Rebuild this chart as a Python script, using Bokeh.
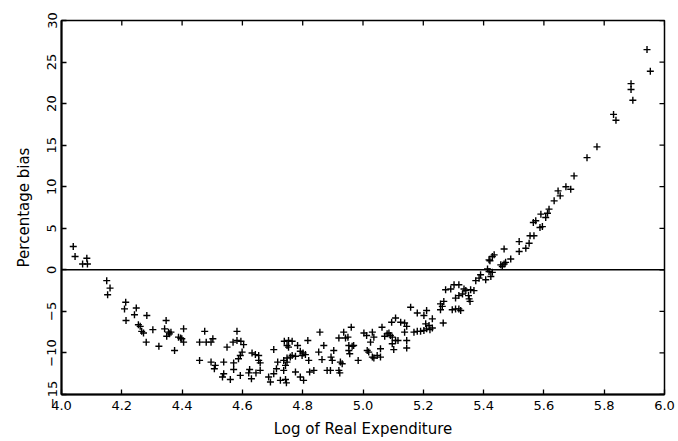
import math
from bokeh.plotting import figure
from bokeh.models import Range1d, FixedTicker, Span
from bokeh.embed import file_html
from bokeh.resources import INLINE

# ---- data ----
log_expenditure = [
    4.039, 4.045, 4.070, 4.084, 4.086, 4.150, 4.161, 4.153, 4.213, 4.209,
    4.214, 4.248, 4.242, 4.283, 4.255, 4.261, 4.266, 4.272, 4.281, 4.303,
    4.347, 4.342, 4.355, 4.363, 4.349, 4.358, 4.323, 4.375, 4.405, 4.388,
    4.399, 4.405, 4.395,
    4.458, 4.458, 4.475, 4.480, 4.496, 4.502, 4.496, 4.510, 4.507, 4.538,
    4.538, 4.534, 4.560, 4.549, 4.582, 4.569, 4.582, 4.595, 4.604, 4.599,
    4.593, 4.587, 4.571, 4.571, 4.593, 4.632, 4.643, 4.654, 4.654, 4.659,
    4.624, 4.621, 4.630, 4.645, 4.659,
    4.687, 4.693, 4.704, 4.704, 4.717, 4.713, 4.726, 4.743, 4.746, 4.737,
    4.743, 4.739, 4.753, 4.765, 4.748, 4.753, 4.759, 4.748, 4.765, 4.776,
    4.737, 4.748, 4.783, 4.792, 4.801, 4.809, 4.798, 4.776, 4.792, 4.803,
    4.817, 4.820, 4.823, 4.837, 4.857, 4.853,
    4.870, 4.864, 4.894, 4.898, 4.903, 4.925, 4.931, 4.920, 4.936, 4.942,
    4.950, 4.961, 4.953, 4.964, 4.969, 4.953, 4.956, 4.984, 4.881, 4.892,
    4.920, 4.923, 5.003, 5.012, 5.031, 5.036, 5.025, 5.014, 5.019, 5.031,
    5.036, 5.047, 5.058, 5.058, 5.063, 5.072, 5.080, 5.086, 5.091, 5.097,
    5.108, 5.116, 5.097, 5.102, 5.095, 5.108, 5.125, 5.138, 5.145, 5.138,
    5.145, 5.145,
    5.158, 5.180, 5.202, 5.211, 5.230, 5.169, 5.180, 5.191, 5.202, 5.211,
    5.222, 5.208, 5.219, 5.230, 5.257, 5.257, 5.268, 5.263, 5.274, 5.266,
    5.291, 5.296, 5.307, 5.318, 5.324, 5.307, 5.318, 5.330, 5.302, 5.318,
    5.335, 5.341, 5.350, 5.352, 5.355, 5.357, 5.368, 5.374, 5.385, 5.390,
    5.407, 5.413, 5.418, 5.429, 5.424, 5.429, 5.435, 5.421, 5.418, 5.468,
    5.457, 5.468, 5.462, 5.473, 5.490, 5.518, 5.518, 5.540, 5.551, 5.554,
    5.567, 5.565, 5.573, 5.590, 5.587, 5.595, 5.606, 5.612, 5.617, 5.634,
    5.647, 5.654, 5.673, 5.689, 5.700, 5.743, 5.776, 5.831, 5.839, 5.889,
    5.889, 5.895, 5.942, 5.953,
]
percentage_bias = [
    2.8, 1.6, 0.7, 1.4, 0.7, -1.3, -2.2, -3.0, -3.9, -4.7,
    -6.1, -4.6, -5.4, -5.5, -6.6, -6.8, -7.4, -7.6, -8.7, -7.2,
    -6.1, -7.1, -7.5, -7.5, -8.0, -7.7, -9.2, -9.7, -7.1, -8.1,
    -8.3, -8.7, -8.2,
    -8.7, -10.9, -7.4, -8.7, -8.7, -8.3, -11.1, -11.5, -11.9, -11.1,
    -12.5, -12.9, -13.2, -9.3, -7.4, -8.7, -8.5, -8.6, -9.0, -9.9,
    -10.3, -10.7, -11.2, -12.0, -12.7, -10.0, -10.2, -10.3, -10.9, -11.2,
    -12.0, -12.4, -13.1, -12.4, -12.1,
    -12.9, -13.5, -12.5, -9.6, -11.1, -11.9, -13.3, -13.2, -13.6, -12.1,
    -11.5, -8.6, -8.5, -8.6, -9.1, -9.3, -10.5, -10.6, -10.3, -10.4,
    -10.9, -11.1, -9.1, -9.8, -10.0, -10.2, -10.3, -12.3, -12.9, -13.3,
    -8.5, -10.9, -12.3, -12.1, -7.5, -9.9,
    -9.1, -10.8, -10.5, -10.9, -9.7, -11.1, -11.3, -8.2, -7.5, -8.2,
    -8.1, -6.9, -9.1, -9.2, -9.1, -9.7, -10.1, -10.9, -12.1, -12.1,
    -12.1, -12.4, -7.6, -7.9, -7.5, -8.1, -8.7, -9.7, -9.9, -10.5,
    -10.6, -10.3, -10.5, -9.5, -6.9, -8.0, -7.7, -7.6, -7.9, -8.1,
    -8.5, -8.5, -8.9, -9.6, -6.3, -5.8, -6.3, -6.4, -6.8, -7.5,
    -8.5, -9.4,
    -4.5, -5.2, -5.5, -4.9, -5.9, -7.5, -7.4, -7.4, -7.3, -7.1,
    -7.2, -6.5, -6.7, -7.0, -4.8, -4.1, -3.8, -4.4, -2.4, -6.4,
    -2.3, -4.8, -4.7, -4.7, -4.9, -3.4, -3.1, -2.9, -1.8, -1.8,
    -2.3, -2.5, -3.1, -3.5, -3.8, -2.4, -2.5, -1.3, -1.0, -0.6,
    -1.2, 0.1, -0.2, -0.3, -0.8, 1.6, 1.8, 1.1, 1.2, 2.5,
    0.6, 0.7, 0.4, 0.9, 1.3, 3.4, 2.2, 2.6, 3.2, 4.1,
    4.1, 5.7, 5.9, 6.7, 5.1, 5.2, 6.3, 6.8, 7.3, 8.3,
    9.5, 8.9, 10.0, 9.7, 11.3, 13.5, 14.8, 18.7, 18.0, 22.4,
    21.7, 20.4, 26.5, 23.9,
]

x_ticks = [4.0, 4.2, 4.4, 4.6, 4.8, 5.0, 5.2, 5.4, 5.6, 5.8, 6.0]
x_tick_labels = ["4.0", "4.2", "4.4", "4.6", "4.8", "5.0", "5.2", "5.4", "5.6", "5.8", "6.0"]
y_ticks = [-15, -10, -5, 0, 5, 10, 15, 20, 25, 30]
y_tick_labels = ["\u221215", "\u221210", "\u22125", "0", "5", "10", "15", "20", "25", "30"]
x_limits = (4.0, 6.0)
y_limits = (-15, 30)
reference_level = 0

x_label = "Log of Real Expenditure"
y_label = "Percentage bias"

FONT = "DejaVu Sans"

p = figure(
    width=678, height=441,
    x_range=Range1d(*x_limits), y_range=Range1d(*y_limits),
    output_backend="svg", toolbar_location=None,
    min_border_left=61, min_border_right=14, min_border_top=20, min_border_bottom=47,
)
p.grid.visible = False
p.outline_line_color = "black"
p.outline_line_width = 1.5
p.background_fill_color = "white"
p.border_fill_color = "white"

xa = p.xaxis[0]
xa.ticker = FixedTicker(ticks=x_ticks)
xa.major_label_overrides = {t: s for t, s in zip(x_ticks, x_tick_labels)}
ya = p.yaxis[0]
ya.ticker = FixedTicker(ticks=y_ticks)
ya.major_label_overrides = {t: s for t, s in zip(y_ticks, y_tick_labels)}

for ax in (xa, ya):
    ax.axis_line_color = "black"
    ax.axis_line_width = 2
    ax.major_tick_in = 5
    ax.major_tick_out = 0
    ax.major_tick_line_width = 1.3
    ax.minor_tick_line_color = None
    ax.major_label_text_font = FONT
    ax.major_label_text_font_size = "13px"
    ax.major_label_text_color = "black"
    ax.axis_label_text_font = FONT
    ax.axis_label_text_font_style = "normal"
    ax.axis_label_text_color = "black"
    ax.axis_label_text_font_size = "15px"

xa.axis_label = x_label
xa.major_label_standoff = 6
xa.axis_label_standoff = 7

ya.axis_label = y_label
ya.major_label_orientation = "vertical"
ya.major_label_standoff = 5
ya.axis_label_standoff = 12

# inward tick marks along the top and right edges of the frame
n_x = len(x_ticks)
n_y = len(y_ticks)
p.scatter(x_ticks, [y_limits[1]] * n_x, marker="dash", angle=math.pi / 2,
          size=10, line_color="black", line_width=1.3)
p.scatter([x_limits[1]] * n_y, y_ticks, marker="dash",
          size=10, line_color="black", line_width=1.3)

p.add_layout(Span(location=reference_level, dimension="width",
                  line_color="black", line_width=1.5))

p.scatter(log_expenditure, percentage_bias, marker="cross", size=7,
          line_color="black", line_width=1.4)

open("out.html", "w").write(file_html(p, INLINE))
